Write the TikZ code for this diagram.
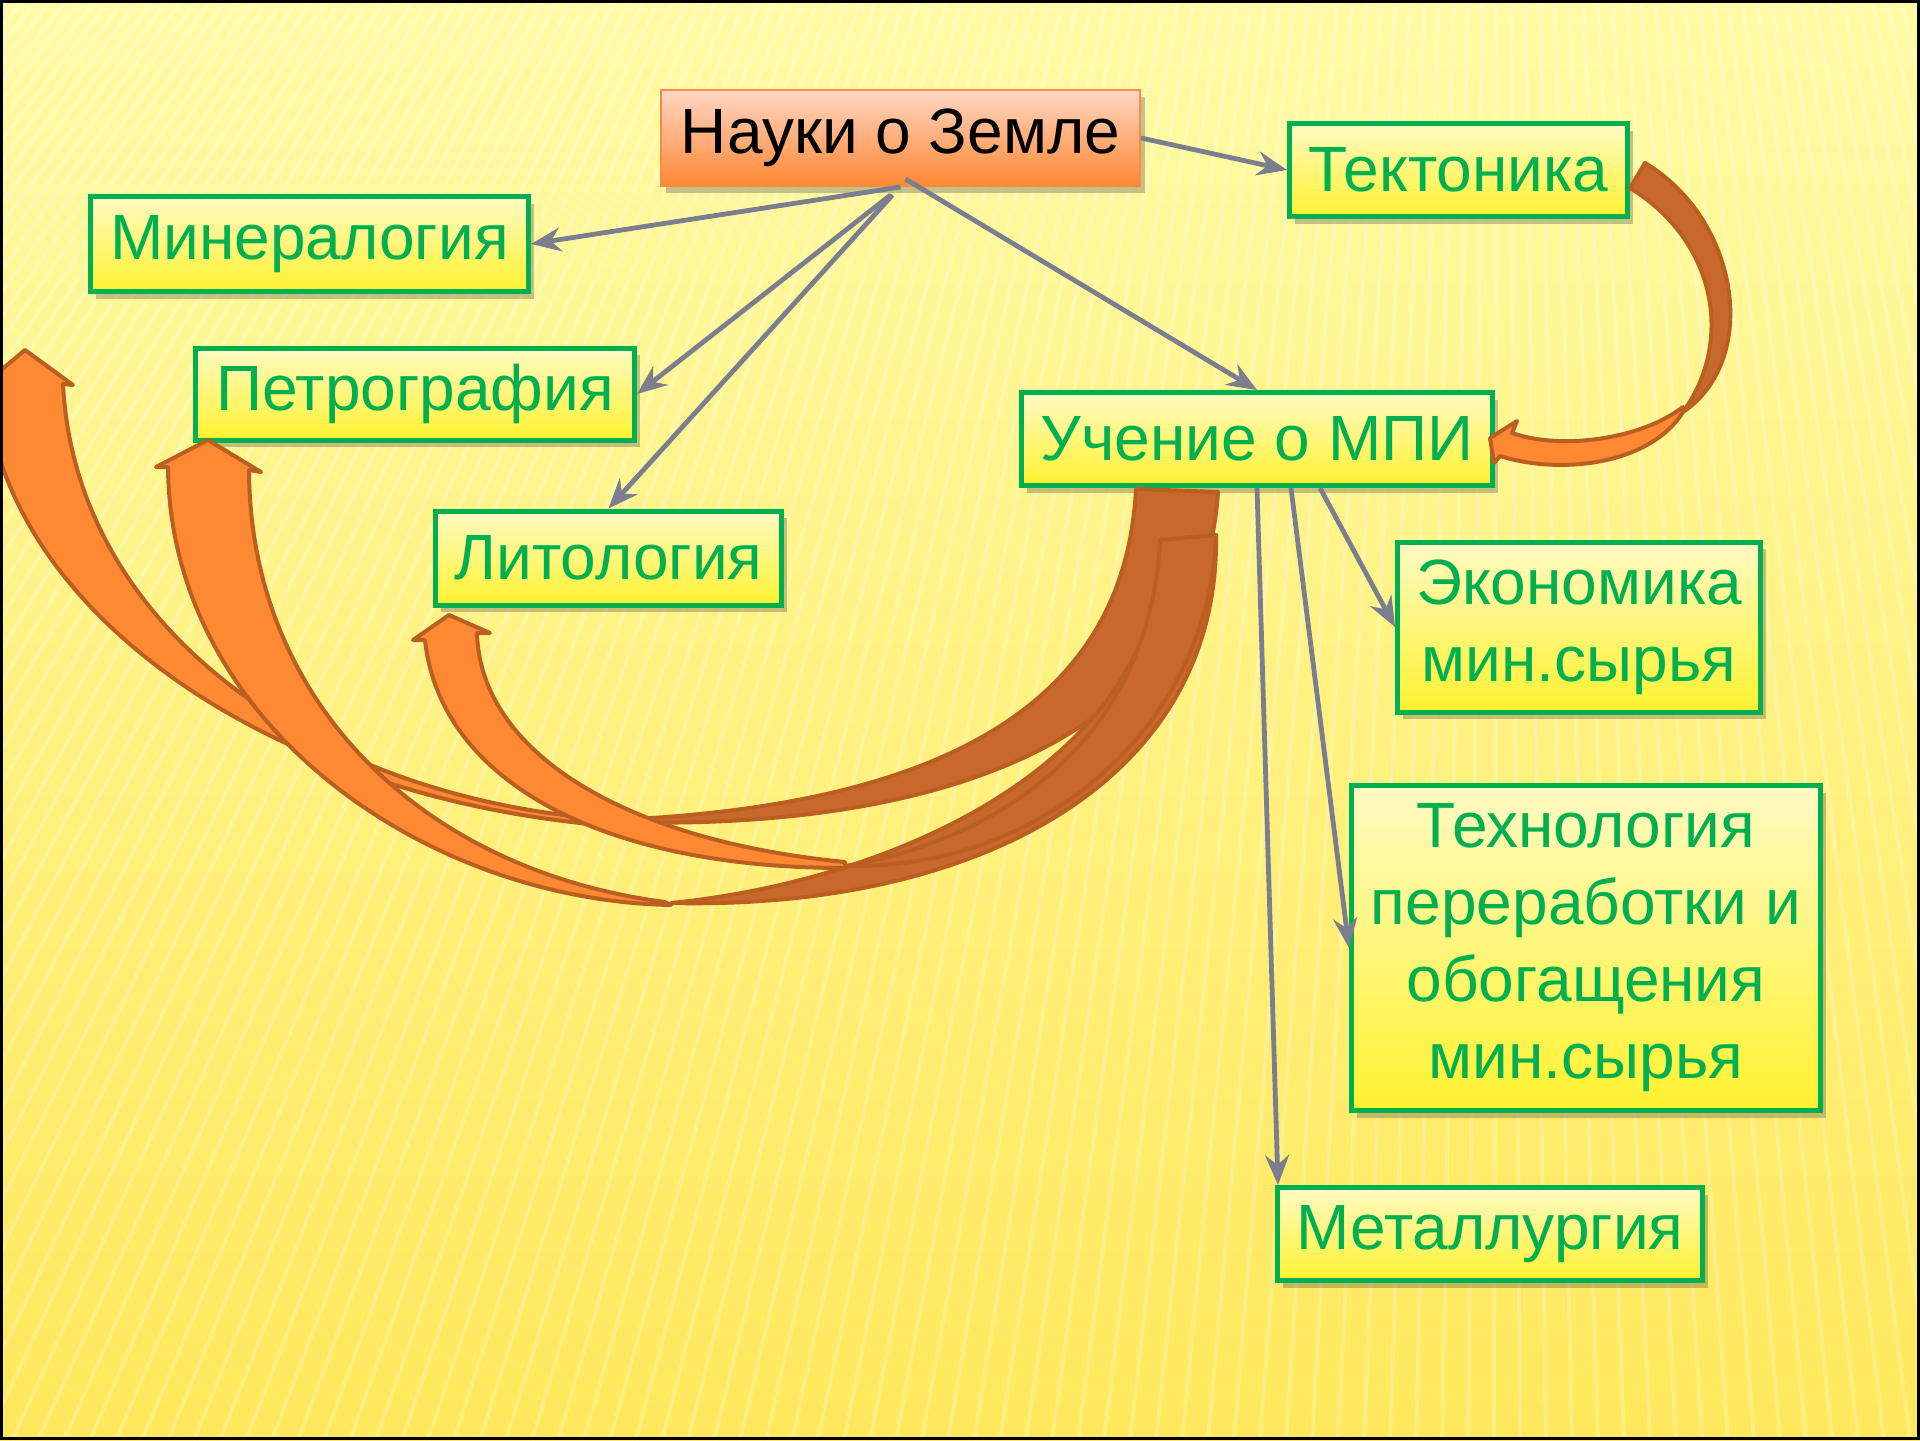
\documentclass[tikz,border=0pt]{standalone}
\usepackage{fontspec}
\setmainfont{Liberation Sans}
\usetikzlibrary{shadows,arrows.meta}
\definecolor{grn}{RGB}{0,176,80}
\definecolor{boxtop}{RGB}{255,250,195}
\definecolor{boxbot}{RGB}{255,242,48}
\definecolor{ntop}{RGB}{255,214,196}
\definecolor{nbot}{RGB}{255,135,50}
\definecolor{nborder}{RGB}{246,140,70}
\definecolor{conncol}{RGB}{122,126,142}
\definecolor{frontfill}{RGB}{255,136,51}
\definecolor{backfill}{RGB}{200,105,43}
\definecolor{bandline}{RGB}{186,94,34}
\definecolor{bgtop}{RGB}{255,251,166}
\definecolor{bgmid}{RGB}{255,245,135}
\definecolor{bgbot}{RGB}{255,232,92}
\tikzset{
  gbox/.style={draw=grn, line width=2.5pt, top color=boxtop, bottom color=boxbot,
    text=grn, font=\fontsize{32pt}{38.5pt}\selectfont, align=center, inner sep=0pt,
    drop shadow={shadow xshift=2.5pt, shadow yshift=-3.5pt, opacity=0.3, fill=black!75}},
  obox/.style={draw=nborder, line width=1pt, top color=ntop, bottom color=nbot,
    text=black, font=\fontsize{32pt}{38.5pt}\selectfont, align=center, inner sep=0pt,
    drop shadow={shadow xshift=2.5pt, shadow yshift=-3.5pt, opacity=0.3, fill=black!75}},
  connarrow/.style={draw=conncol, line width=2.4pt, -{Stealth[length=15pt,width=12pt,inset=5pt]}},
  frontband/.style={fill=frontfill, draw=bandline, line width=2pt, line join=round},
  backband/.style={fill=backfill, draw=bandline, line width=2pt, line join=round},
}
\begin{document}
\begin{tikzpicture}[x=0.5pt,y=-0.5pt]
\useasboundingbox (0,0) rectangle (1920,1440);
\begin{scope}
\clip (0,0) rectangle (1920,1440);
% background
\shade[top color=bgtop, middle color=bgmid, bottom color=bgbot] (0,0) rectangle (1920,1440);
\foreach \xb in {-1600,-1574,...,2400} {
  \draw[white, opacity=0.22, line width=2pt] (1500,-1800) -- (\xb,1440);
}
% nodes
\node[obox, minimum width=239.5pt, minimum height=48pt] (nauki) at (900.5,138) {Науки о Земле};
\node[gbox, minimum width=169pt, minimum height=46.5pt] (tekt) at (1458.5,170) {Тектоника};
\node[gbox, minimum width=219pt, minimum height=47.5pt] (miner) at (309.5,244) {Минералогия};
\node[gbox, minimum width=219.5pt, minimum height=46pt] (petro) at (415,394) {Петрография};
\node[gbox, minimum width=173pt, minimum height=47pt] (lito) at (608.5,558) {Литология};
\node[gbox, minimum width=235.5pt, minimum height=46.5pt] (uchen) at (1257,439) {Учение о МПИ};
\node[gbox, minimum width=181.5pt, minimum height=85pt] (ekon) at (1579,627) {Экономика\\мин.сырья};
\node[gbox, minimum width=234.5pt, minimum height=162.5pt] (tekh) at (1586,948) {Технология\\переработки и\\обогащения\\мин.сырья};
\node[gbox, minimum width=212.5pt, minimum height=46.5pt] (metal) at (1490,1234) {Металлургия};
% curved arrow Tektonika -> Uchenie
\filldraw[backband] (1645,163) .. controls (1740,220) and (1760,360) .. (1683,412)
  .. controls (1735,340) and (1715,240) .. (1630,188) -- cycle;
\filldraw[frontband] (1683,407) .. controls (1640,440) and (1560,450) .. (1512,433)
  -- (1517,421) -- (1490,438) -- (1494,463) -- (1500,456)
  .. controls (1560,475) and (1650,465) .. (1683,412) -- cycle;
% big curved arrows: back parts
\filldraw[backband] (1136,489) .. controls (1125,700) and (950,810) .. (590,821)
  .. controls (900,835) and (1200,760) .. (1218,492) -- cycle;
\filldraw[backband] (1162,540) .. controls (1160,760) and (900,880) .. (671,903)
  .. controls (980,910) and (1220,780) .. (1216,535) -- cycle;
\filldraw[backband] (1160,540) .. controls (1150,740) and (1000,840) .. (845,866)
  .. controls (1050,870) and (1210,720) .. (1216,535) -- cycle;
% big curved arrows: front parts
\filldraw[frontband] (590,818) .. controls (300,790) and (75,620) .. (63,384)
  -- (73,385) -- (25,350) -- (-25,392) -- (-14,387)
  .. controls (0,600) and (250,790) .. (590,824) -- cycle;
\filldraw[frontband] (665,902) .. controls (420,870) and (250,700) .. (249,470)
  -- (261,472) -- (208,440) -- (156,467) -- (168,467)
  .. controls (170,720) and (420,900) .. (671,905) -- cycle;
\filldraw[frontband] (845,862) .. controls (620,840) and (480,750) .. (477,633)
  -- (490,633) -- (449,615) -- (413,640) -- (425,640)
  .. controls (440,780) and (600,868) .. (845,868) -- cycle;
% connectors
\draw[connarrow] (nauki.east) -- (tekt.west);
\draw[connarrow] (nauki.south) -- (miner.east);
\draw[connarrow] ([xshift=-5pt,yshift=-4pt]nauki.south) -- (petro.east);
\draw[connarrow] ([xshift=-4pt,yshift=-4pt]nauki.south) -- (lito.north);
\draw[connarrow] ([xshift=2.5pt,yshift=4pt]nauki.south) -- (uchen.north);
\draw[connarrow] ([xshift=31.5pt]uchen.south) -- (ekon.west);
\draw[connarrow] ([xshift=17pt]uchen.south) -- (tekh.west);
\draw[connarrow] (uchen.south) -- ([xshift=1.5pt]metal.north west);
\end{scope}
\draw[black, line width=1.5pt] (1.5,1.5) rectangle (1918.5,1438.5);
\end{tikzpicture}
\end{document}
